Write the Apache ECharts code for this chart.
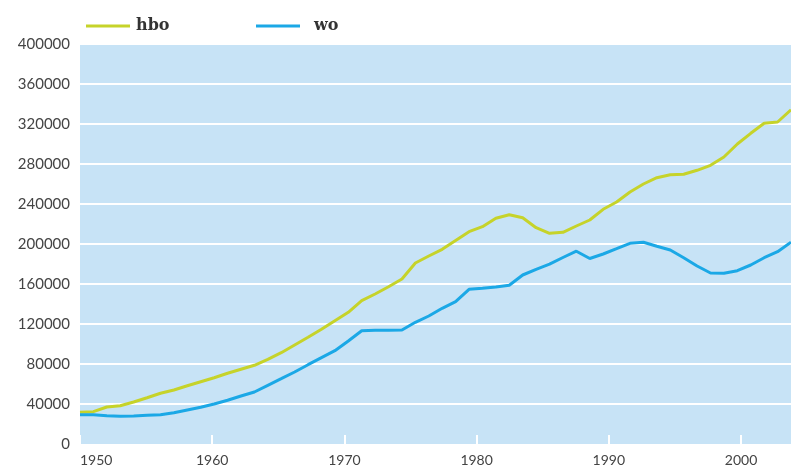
<!DOCTYPE html>
<html>
<head>
<meta charset="utf-8">
<script src="https://cdn.jsdelivr.net/npm/echarts@6/dist/echarts.min.js"></script>
<style>
html,body{margin:0;padding:0;background:#fff;}
#chart{width:791px;height:468px;}
</style>
</head>
<body>
<div id="chart"></div>
<script>
const years = [1950,1951,1952,1953,1954,1955,1956,1957,1958,1959,
  1960,1961,1962,1963,1964,1965,1966,1967,1968,1969,
  1970,1971,1972,1973,1974,1975,1976,1977,1978,1979,
  1980,1981,1982,1983,1984,1985,1986,1987,1988,1989,
  1990,1991,1992,1993,1994,1995,1996,1997,1998,1999,
  2000,2001,2002,2003];

const hbo = [31700,32300,37000,38300,42000,46300,50700,54000,58300,62300,
  66300,70700,74700,78700,84700,91300,99000,106700,114700,123300,
  131700,143300,150000,157300,165000,181000,188000,194700,203500,212300,
  217300,225800,229300,226200,216300,210700,211700,218000,224000,234700,
  242000,252000,260000,266300,269300,269700,273700,278700,287000,300000,
  310700,320700,322000,334200];

const wo = [29300,29300,28300,27700,28000,28700,29300,31300,34000,36700,
  40000,43700,48000,52000,58700,65300,72000,79300,86300,93300,
  103000,113300,113700,113700,114000,121700,128000,135700,142300,154700,
  155800,157000,158700,169000,174700,179800,186500,192800,185500,190000,
  195300,200700,201700,197700,194000,186300,178000,171000,170700,173300,
  179000,186300,192300,201800];

const seriesNames = ['hbo', 'wo'];
const yTicks = {min: 0, max: 400000, step: 40000};
const xTicks = {first: 1950, step: 10};

const chart = echarts.init(document.getElementById('chart'), null, {renderer: 'canvas'});
const pairs = arr => years.map((y, i) => [y, arr[i]]);

chart.setOption({
  animation: false,
  backgroundColor: '#ffffff',
  grid: {
    left: 80, right: 0, top: 44, bottom: 24,
    show: true, backgroundColor: '#c7e3f6', borderWidth: 0
  },
  legend: [
    {
      data: [seriesNames[0]], left: 81, top: 13,
      icon: 'rect', itemWidth: 44, itemHeight: 3, itemGap: 0,
      textStyle: {fontFamily: 'DejaVu Serif', fontWeight: 'bold', fontSize: 16, color: '#333', padding: [0,0,0,1]}
    },
    {
      data: [seriesNames[1]], left: 251, top: 13,
      icon: 'rect', itemWidth: 44, itemHeight: 3, itemGap: 0,
      textStyle: {fontFamily: 'DejaVu Serif', fontWeight: 'bold', fontSize: 16, color: '#333', padding: [0,0,0,9]}
    }
  ],
  xAxis: [
    {
      type: 'value', min: years[0], max: years[years.length - 1],
      show: false
    },
    {
      type: 'value', min: xTicks.first, max: 2003.78, interval: xTicks.step,
      position: 'bottom',
      axisLine: {show: false},
      axisTick: {show: true, inside: true, length: 9, lineStyle: {color: '#ffffff', width: 2}},
      splitLine: {show: false},
      axisLabel: {
        color: '#444', fontFamily: 'Lato', fontSize: 14, margin: 9,
        showMaxLabel: false, alignMinLabel: 'left',
        formatter: v => String(v)
      }
    }
  ],
  yAxis: {
    type: 'value', min: yTicks.min, max: yTicks.max, interval: yTicks.step,
    axisLine: {show: false},
    axisTick: {show: false},
    splitLine: {show: true, showMinLine: false, lineStyle: {color: '#ffffff', width: 2}},
    axisLabel: {color: '#444', fontFamily: 'Lato', fontSize: 15, margin: 10, padding: [10, 0, 0, 0],
      formatter: v => String(v)}
  },
  series: [
    {
      name: seriesNames[0], type: 'line', xAxisIndex: 0, data: pairs(hbo),
      showSymbol: false, symbol: 'none', color: '#c6d32a',
      lineStyle: {width: 3, color: '#c6d32a'}
    },
    {
      name: seriesNames[1], type: 'line', xAxisIndex: 0, data: pairs(wo),
      showSymbol: false, symbol: 'none', color: '#1ba8e6',
      lineStyle: {width: 3, color: '#1ba8e6'}
    }
  ]
});
</script>
</body>
</html>
